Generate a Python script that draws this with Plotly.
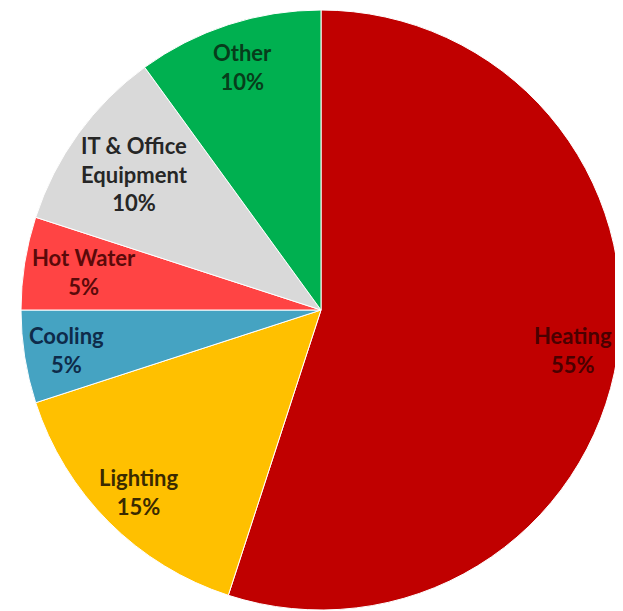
import math
import plotly.graph_objects as go

categories = ["Heating", "Lighting", "Cooling", "Hot Water", "IT & Office<br>Equipment", "Other"]
values = [55, 15, 5, 5, 10, 10]
slice_colors = ["#C00000", "#FFC000", "#45A3C2", "#FF4444", "#D9D9D9", "#00B050"]
label_colors = ["#4A0000", "#3A2A00", "#0E2B4A", "#5A0A0A", "#262626", "#073D1B"]
# radial placement of each label, as a fraction of the radius (style)
label_radius = [0.85, 0.86, 0.86, 0.80, 0.77, 0.85]

W, H = 623, 611
# page body has an 8px margin; centre/radius in figure pixels
cx, cy, R = 313, 302, 300

fig = go.Figure(go.Pie(
    labels=categories,
    values=values,
    sort=False,
    direction="clockwise",
    rotation=0,
    marker=dict(colors=slice_colors, line=dict(color="white", width=1)),
    textinfo="none",
    hoverinfo="label+percent",
    showlegend=False,
    domain=dict(x=[(cx - R) / W, (cx + R) / W], y=[(H - cy - R) / H, (H - cy + R) / H]),
))

total = sum(values)
cum = 0
for lab, v, col, lr in zip(categories, values, label_colors, label_radius):
    mid = (cum + v / 2) / total * 2 * math.pi
    cum += v
    px = cx + lr * R * math.sin(mid)
    py = cy - lr * R * math.cos(mid)
    fig.add_annotation(
        x=px / W, y=1 - py / H, xref="paper", yref="paper",
        text=f"<b>{lab}<br>{v}%</b>", showarrow=False,
        font=dict(family="Lato", size=22, color=col),
        xanchor="center", yanchor="middle", align="center",
    )

fig.update_layout(
    width=W, height=H,
    margin=dict(l=0, r=0, t=0, b=0),
    paper_bgcolor="white",
)
fig.write_html("out.html")
